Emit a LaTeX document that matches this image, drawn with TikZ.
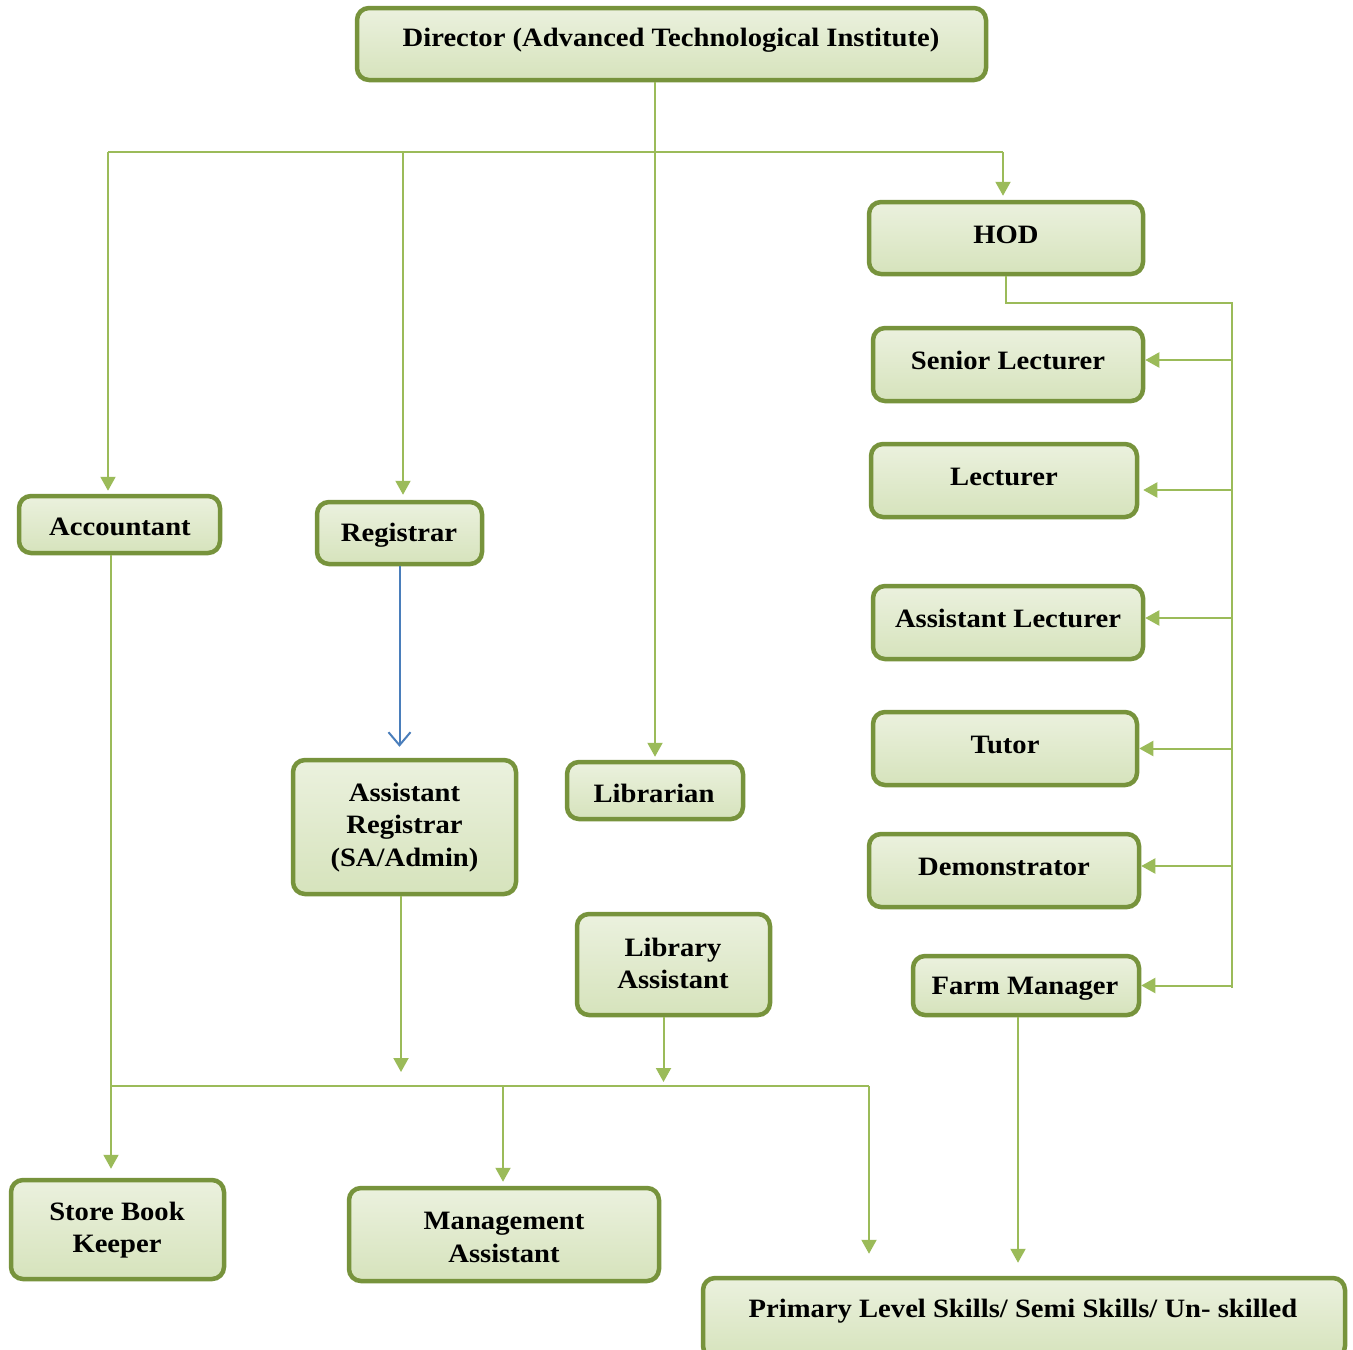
\documentclass[tikz,border=0pt]{standalone}
\usepackage{fontspec}
\setmainfont{Liberation Serif}[FakeStretch=1.08]
\usetikzlibrary{arrows.meta,calc}
\definecolor{boxborder}{HTML}{77933C}
\definecolor{linegreen}{HTML}{9BBB59}
\definecolor{fillTop}{HTML}{EBF1DE}
\definecolor{fillBot}{HTML}{D6E3BC}
\definecolor{bluearrow}{HTML}{4A7EBB}
\tikzset{
  box/.style={draw=boxborder, line width=4.5pt, rounded corners=12pt, top color=fillTop, bottom color=fillBot, inner sep=0pt},
  lbl/.style={font=\fontsize{26.5}{32.5}\selectfont\bfseries, align=center, inner sep=0pt},
  conn/.style={draw=linegreen, line width=2pt},
  arr/.style={conn, -{Triangle[length=14pt,width=15pt]}},
}
\begin{document}
\begin{tikzpicture}[x=1pt,y=-1pt]
\useasboundingbox (0,0) rectangle (1353,1350);
% boxes
\node[box, minimum width=629pt, minimum height=72pt] (dir) at (671.5,44) {};
\node[lbl] (dirT) at (671,40.5) {Director (Advanced Technological Institute)};
\node[box, minimum width=274pt, minimum height=72pt] (hod) at (1006,238) {};
\node[lbl] (hodT) at (1006,234.5) {HOD};
\node[box, minimum width=270pt, minimum height=73pt] (sl) at (1008,364.5) {};
\node[lbl] (slT) at (1008,360.5) {Senior Lecturer};
\node[box, minimum width=266pt, minimum height=73pt] (lec) at (1004,480.5) {};
\node[lbl] (lecT) at (1004,476.5) {Lecturer};
\node[box, minimum width=270pt, minimum height=73pt] (al) at (1008,622.5) {};
\node[lbl] (alT) at (1008,618.5) {Assistant Lecturer};
\node[box, minimum width=264pt, minimum height=73pt] (tut) at (1005,748.5) {};
\node[lbl] (tutT) at (1005,744.5) {Tutor};
\node[box, minimum width=270pt, minimum height=73pt] (dem) at (1004,870.5) {};
\node[lbl] (demT) at (1004,866.5) {Demonstrator};
\node[box, minimum width=226pt, minimum height=59pt] (fm) at (1026,985.5) {};
\node[lbl] (fmT) at (1025,988.5) {Farm Manager};
\node[box, minimum width=201pt, minimum height=57pt] (acc) at (119.5,524.5) {};
\node[lbl] (accT) at (120,527) {Accountant};
\node[box, minimum width=165pt, minimum height=62pt] (reg) at (399.5,533) {};
\node[lbl] (regT) at (399,535) {Registrar};
\node[box, minimum width=223pt, minimum height=134pt] (ar) at (404.5,827) {};
\node[lbl] (arT) at (404.5,827.5) {Assistant\\Registrar\\(SA/Admin)};
\node[box, minimum width=176pt, minimum height=57pt] (lib) at (655,790.5) {};
\node[lbl] (libT) at (654,793.5) {Librarian};
\node[box, minimum width=193pt, minimum height=101pt] (la) at (673.5,964.5) {};
\node[lbl] (laT) at (673,963.5) {Library\\Assistant};
\node[box, minimum width=213pt, minimum height=99pt] (sbk) at (117.5,1229.5) {};
\node[lbl] (sbkT) at (117,1230) {Store Book\\Keeper};
\node[box, minimum width=310pt, minimum height=93pt] (ma) at (504,1234.5) {};
\node[lbl] (maT) at (504,1237.5) {Management\\Assistant};
\node[box, minimum width=642pt, minimum height=80pt] (pl) at (1024,1318) {};
\node[lbl] (plT) at (1023,1311) {Primary Level Skills/ Semi Skills/ Un- skilled};
% top bus
\coordinate (tL) at (108,152);
\coordinate (tM) at (403,152);
\coordinate (tR) at (1003,152);
\draw[conn] (tL) -- (tR);
\draw[arr] (lib.north |- dir.south) -- ([yshift=3pt]lib.north);
\draw[arr, shorten >=3pt] (tL) -- (tL |- acc.north);
\draw[arr, shorten >=5pt] (tM) -- (tM |- reg.north);
\draw[arr, shorten >=4pt] (tR) -- (tR |- hod.north);
% HOD branch
\coordinate (rb) at (1232,303);
\coordinate (re) at (1232,988);
\draw[conn] (hod.south) -- (hod.south |- rb) -- (rb) -- (re);
\draw[arr] ([yshift=4.5pt]rb |- sl.east) -- ([yshift=4.5pt]sl.east);
\draw[arr] ([yshift=-9.5pt]rb |- lec.east) -- ([yshift=-9.5pt,xshift=4pt]lec.east);
\draw[arr] ([yshift=4.5pt]rb |- al.east) -- ([yshift=4.5pt]al.east);
\draw[arr] (rb |- tut.east) -- (tut.east);
\draw[arr] ([yshift=4.5pt]rb |- dem.east) -- ([yshift=4.5pt]dem.east);
\draw[arr] (rb |- fm.east) -- (fm.east);
% registrar
\draw[draw=bluearrow, line width=2pt, -{Straight Barb[length=13pt,width=22pt,line width=2pt]}, shorten >=11pt] (reg.south) -- (reg.south |- ar.north);
% bottom bus
\coordinate (bL) at (111,1086);
\coordinate (bM) at (503,1086);
\coordinate (bR) at (869,1086);
\draw[conn] (bL) -- (bR);
\draw[arr, shorten >=9pt] (bL |- acc.south) -- (bL |- sbk.north);
\draw[arr, shorten >=4pt] (bM) -- (bM |- ma.north);
\draw[arr, shorten >=22pt] (bR) -- (bR |- pl.north);
\draw[arr, shorten >=14pt] ([xshift=-3.5pt]ar.south) -- ([xshift=-3.5pt]ar.south |- bL);
\draw[arr, shorten >=4pt] ([xshift=-10pt]la.south) -- ([xshift=-10pt]la.south |- bL);
\draw[arr, shorten >=13pt] ([xshift=-8pt]fm.south) -- ([xshift=-8pt]fm.south |- pl.north);
\end{tikzpicture}
\end{document}
